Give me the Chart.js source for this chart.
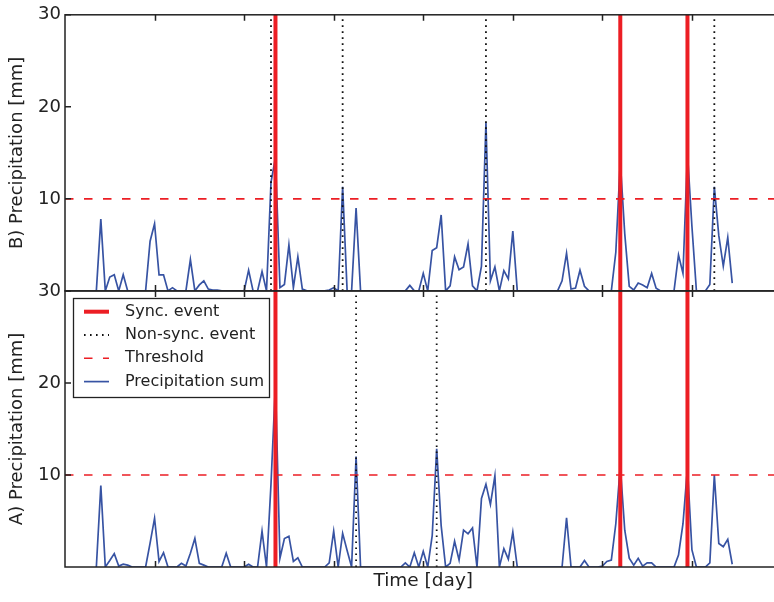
<!DOCTYPE html>
<html>
<head>
<meta charset="utf-8">
<script src="https://cdn.jsdelivr.net/npm/chart.js@4.4.0/dist/chart.umd.min.js"></script>
<style>
  html, body { margin: 0; padding: 0; background: #fff; overflow: hidden; }
  #wrap { position: relative; width: 800px; height: 602px; }
</style>
</head>
<body>
<div id="wrap"><canvas id="chart" width="800" height="602"></canvas></div>
<script>
// daily precipitation sums [mm], first value is day 7
const firstDay = 7;
const precipA = [
  0, 8.85, 0, 0.7, 1.45, 0.1, 0.3, 0.2, 0, 0, 0, 0, 2.6, 5.3, 0.6, 1.55, 0, 0, 0, 0.4,
  0.1, 1.5, 3.1, 0.4, 0.2, 0, 0, 0, 0, 1.5, 0, 0, 0, 0, 0.3, 0, 0, 3.9, 0, 9,
  20, 0.95, 3.1, 3.35, 0.6, 1.0, 0, 0, 0, 0, 0, 0, 0.45, 3.9, 0, 3.65, 1.8, 0, 12.0, 0,
  0, 0, 0, 0, 0, 0, 0, 0, 0, 0.45, 0, 1.55, 0, 1.7, 0, 3.4, 12.85, 4.5, 0, 0.4,
  2.8, 0.75, 4.0, 3.6, 4.25, 0, 7.45, 9.0, 6.8, 9.9, 0, 2.0, 0.85, 3.8, 0, 0, 0, 0, 0, 0,
  0, 0, 0, 0, 0, 5.35, 0, 0, 0, 0.7, 0, 0, 0, 0.1, 0.6, 0.75, 4.7, 11.0, 4.0, 0.95,
  0.2, 0.95, 0.1, 0.45, 0.45, 0, 0, 0, 0, 0, 1.3, 4.7, 10.8, 1.85, 0, 0, 0, 0.45, 10.0, 2.55,
  2.2, 3.0, 0.3
];
const precipB = [
  0, 7.8, 0, 1.5, 1.75, 0, 1.75, 0, 0, 0, 0, 0, 5.4, 7.3, 1.75, 1.75, 0, 0.35, 0, 0,
  0, 3.4, 0, 0.65, 1.1, 0.2, 0.1, 0.1, 0, 0, 0, 0, 0, 0, 2.25, 0, 0, 2.1, 0, 11.8,
  14.5, 0.35, 0.7, 5.0, 0.35, 3.7, 0.2, 0, 0, 0, 0, 0, 0.1, 0.35, 0, 11.3, 0, 0, 9.0, 0,
  0, 0, 0, 0, 0, 0, 0, 0, 0, 0, 0.6, 0, 0, 1.9, 0, 4.4, 4.7, 8.25, 0, 0.55,
  3.7, 2.3, 2.6, 5.1, 0.55, 0, 2.7, 18.3, 1.1, 2.6, 0, 2.2, 1.3, 6.5, 0, 0, 0, 0, 0, 0,
  0, 0, 0, 0, 1.1, 4.1, 0.2, 0.3, 2.25, 0.5, 0, 0, 0, 0, 0, 0, 4.2, 14.1, 6.2, 0.5,
  0.1, 0.85, 0.65, 0.35, 1.9, 0.3, 0, 0, 0, 0, 3.9, 1.9, 15.0, 7.0, 0, 0, 0, 0.7, 11.3, 6.0,
  2.7, 5.8, 0.85
];
const syncDays = [47, 124, 139];
const nonSyncA = [65, 83];
const nonSyncB = [46, 62, 94, 145];
const threshold = 10;
const dayTicks = [20, 40, 60, 80, 100, 120, 140];
const mmTicks = [10, 20, 30];
const dayMax = 160;
const mmMax = 30;

const RED = 'rgb(236,30,36)';
const BLUE = '#3753a3';
const INK = '#222';
const DOT = [1.6, 4.4];
const DASH = [8.5, 10.5];

Chart.defaults.font.family = 'DejaVu Sans';
Chart.defaults.font.size = 18;
Chart.defaults.color = INK;

function series(values) {
    return values.map((v, i) => ({ x: firstDay + i, y: v }));
}

function verticals(days) {
    const pts = [];
    days.forEach(d => {
        pts.push({ x: d, y: 0 }, { x: d, y: mmMax }, { x: d, y: null });
    });
    return pts;
}

function flat(v) {
    return [{ x: 0, y: v }, { x: dayMax, y: v }];
}

const base = { pointRadius: 0, tension: 0, fill: false, spanGaps: false };

// legend + frame with inward ticks, matplotlib style
const framePlugin = {
    id: 'frame',
    afterDatasetsDraw(chart) {
        const { ctx } = chart;
        const x = chart.scales.x;
        ctx.save();
        ctx.strokeStyle = INK;
        ctx.lineWidth = 1.5;
        ctx.setLineDash([]);
        ['yB', 'yA'].forEach(id => {
            const y = chart.scales[id];
            ctx.strokeRect(x.left, y.top, x.right - x.left, y.bottom - y.top);
            ctx.beginPath();
            dayTicks.forEach(d => {
                const px = Math.round(x.getPixelForValue(d)) + 0.5;
                ctx.moveTo(px, y.top); ctx.lineTo(px, y.top + 6);
                ctx.moveTo(px, y.bottom); ctx.lineTo(px, y.bottom - 6);
            });
            mmTicks.forEach(v => {
                const py = y.getPixelForValue(v);
                ctx.moveTo(x.left, py); ctx.lineTo(x.left + 6, py);
                ctx.moveTo(x.right, py); ctx.lineTo(x.right - 6, py);
            });
            ctx.stroke();
        });

        // legend box in panel A
        const items = chart.data.datasets.filter(ds => ds.showInLegend);
        const bx = 73.5, by = 298.5, bw = 196, bh = 99, row = 23.3;
        ctx.fillStyle = '#fff';
        ctx.fillRect(bx, by, bw, bh);
        ctx.lineWidth = 1.3;
        ctx.strokeStyle = INK;
        ctx.strokeRect(bx, by, bw, bh);
        ctx.font = '16px "DejaVu Sans"';
        ctx.textBaseline = 'middle';
        ctx.textAlign = 'left';
        items.forEach((ds, i) => {
            const cy = by + 13.2 + i * row;
            ctx.beginPath();
            ctx.strokeStyle = ds.borderColor;
            ctx.lineWidth = ds.borderWidth;
            ctx.setLineDash(ds.borderDash || []);
            ctx.moveTo(84, cy); ctx.lineTo(109, cy);
            ctx.stroke();
            ctx.setLineDash([]);
            ctx.fillStyle = INK;
            ctx.fillText(ds.label, 125, cy);
        });
        ctx.restore();
    }
};

const ctx = document.getElementById('chart').getContext('2d');
const chart = new Chart(ctx, {
    type: 'line',
    data: {
        datasets: [
            { ...base, label: 'Sync. event', showInLegend: true, data: verticals(syncDays), yAxisID: 'yB', borderColor: RED, borderWidth: 4 },
            { ...base, label: 'Sync. event A', data: verticals(syncDays), yAxisID: 'yA', borderColor: RED, borderWidth: 4 },
            { ...base, label: 'Non-sync. event', showInLegend: true, data: verticals(nonSyncB), yAxisID: 'yB', borderColor: '#111', borderWidth: 1.8, borderDash: DOT },
            { ...base, label: 'Non-sync. event A', data: verticals(nonSyncA), yAxisID: 'yA', borderColor: '#111', borderWidth: 1.8, borderDash: DOT },
            { ...base, label: 'Threshold', showInLegend: true, data: flat(threshold), yAxisID: 'yB', borderColor: RED, borderWidth: 1.6, borderDash: DASH },
            { ...base, label: 'Threshold A', data: flat(threshold), yAxisID: 'yA', borderColor: RED, borderWidth: 1.6, borderDash: DASH },
            { ...base, label: 'Precipitation sum', showInLegend: true, data: series(precipB), yAxisID: 'yB', borderColor: BLUE, borderWidth: 1.7 },
            { ...base, label: 'Precipitation sum A', data: series(precipA), yAxisID: 'yA', borderColor: BLUE, borderWidth: 1.7 }
        ]
    },
    options: {
        responsive: false,
        animation: false,
        events: [],
        layout: { padding: { top: 13, right: 18.5, left: 0, bottom: 0 } },
        plugins: { legend: { display: false }, tooltip: { enabled: false } },
        scales: {
            x: {
                type: 'linear', min: 0, max: dayMax,
                grid: { display: false, drawTicks: false },
                border: { display: false },
                ticks: { display: false },
                title: { display: true, text: 'Time [day]', color: INK, font: { size: 18.5 }, padding: { top: 0, bottom: 10 } },
                afterFit: s => { s.height = 35; }
            },
            yA: {
                type: 'linear', min: 0, max: mmMax, position: 'left', stack: 'panels', stackWeight: 1,
                grid: { display: false, drawTicks: false },
                border: { display: false },
                ticks: { stepSize: 10, padding: 4, color: INK, callback: v => v === 0 ? '' : v },
                title: { display: true, text: 'A) Precipitation [mm]', color: INK, font: { size: 18 }, padding: { top: 7, bottom: 0 } },
                afterFit: s => { s.width = 65; }
            },
            yB: {
                type: 'linear', min: 0, max: mmMax, position: 'left', stack: 'panels', stackWeight: 1,
                grid: { display: false, drawTicks: false },
                border: { display: false },
                ticks: { stepSize: 10, padding: 4, color: INK, callback: v => v === 0 ? '' : v },
                title: { display: true, text: 'B) Precipitation [mm]', color: INK, font: { size: 18 }, padding: { top: 7, bottom: 0 } },
                afterFit: s => { s.width = 65; }
            }
        }
    },
    plugins: [framePlugin]
});
</script>
</body>
</html>
